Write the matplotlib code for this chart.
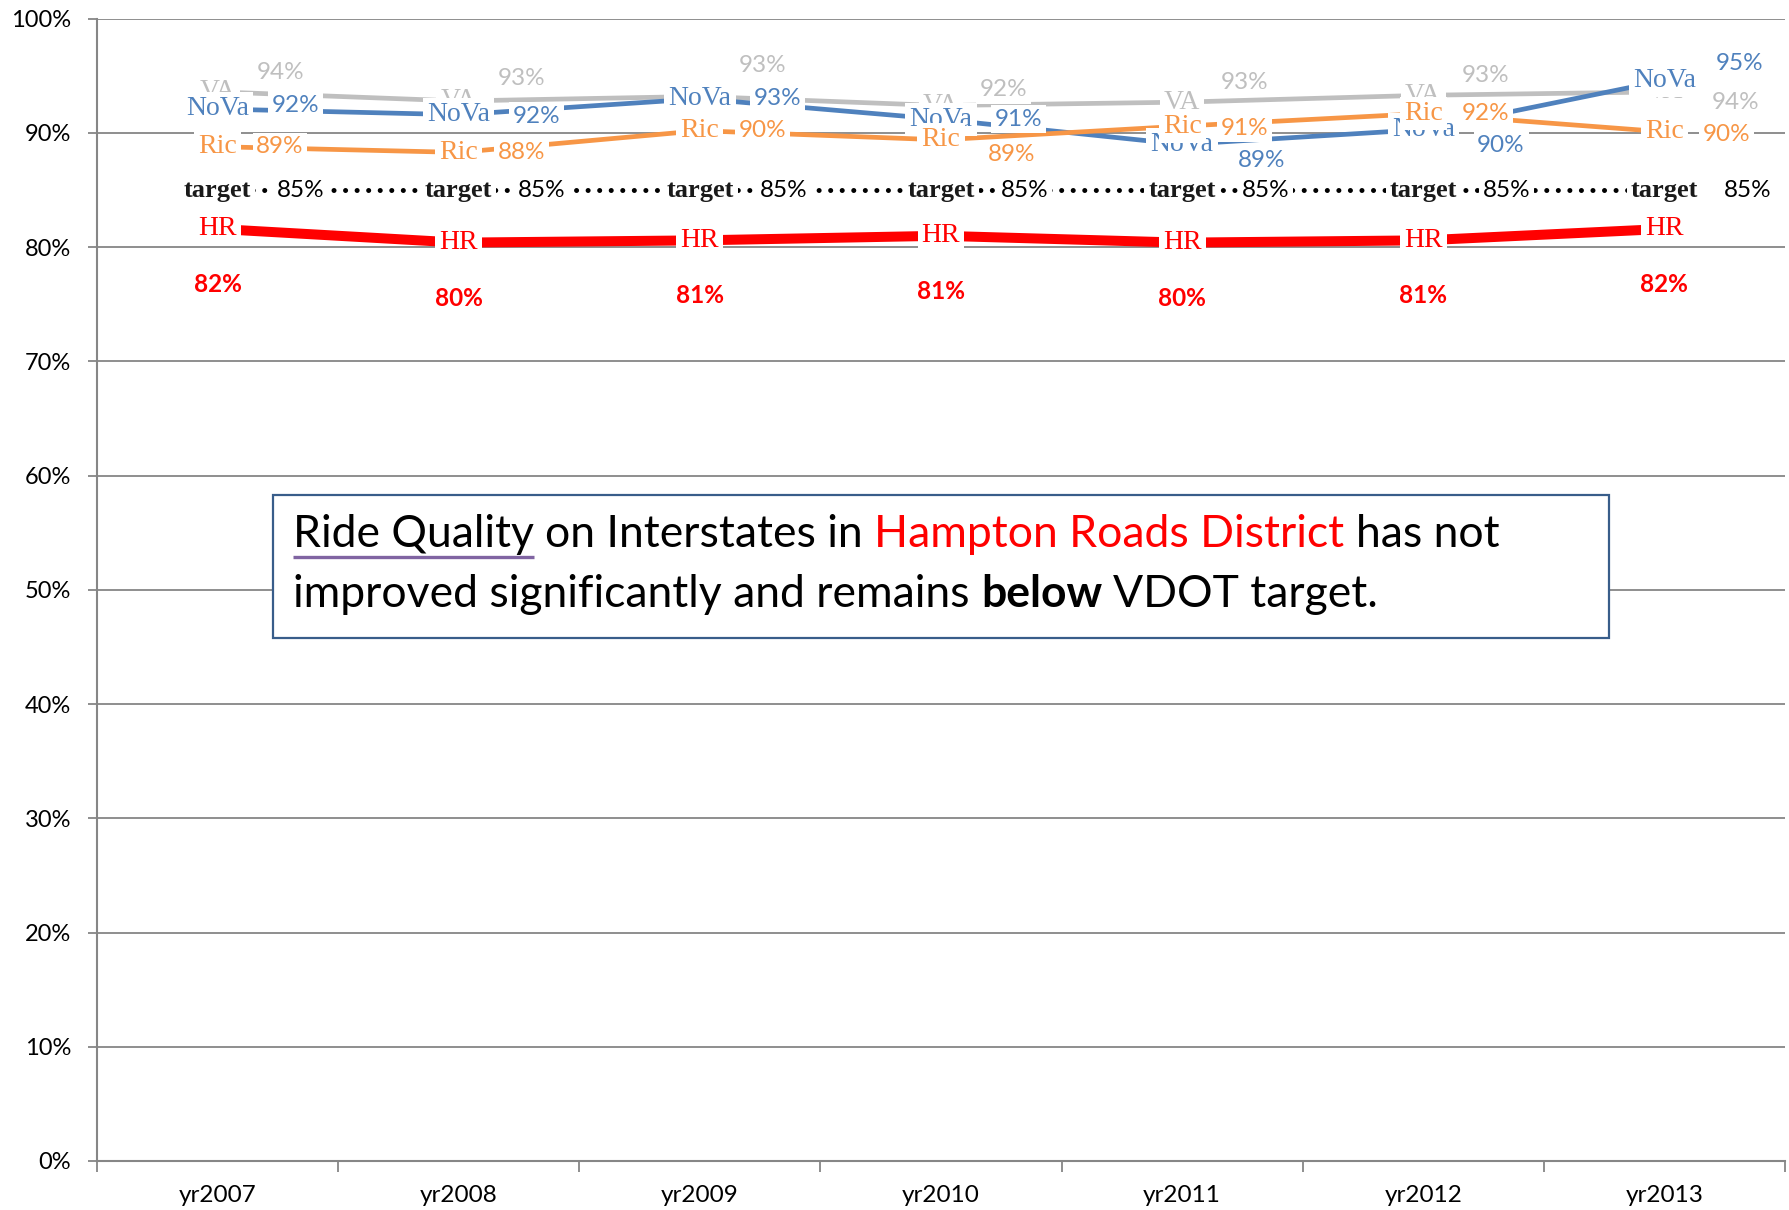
import matplotlib
matplotlib.use("Agg")
import matplotlib.pyplot as plt
from matplotlib.patches import Rectangle

# data
years = ["yr2007", "yr2008", "yr2009", "yr2010", "yr2011", "yr2012", "yr2013"]
va = [93.6, 92.8, 93.2, 92.4, 92.7, 93.3, 93.6]
nova = [92.1, 91.6, 93.0, 91.2, 89.0, 90.3, 94.6]
ric = [88.8, 88.3, 90.2, 89.4, 90.6, 91.7, 90.1]
target = [85, 85, 85, 85, 85, 85, 85]
hr = [81.6, 80.4, 80.6, 81.0, 80.4, 80.6, 81.6]

# label offsets (points) - Excel put these around the points
va_dx = [45, 45, 45, 45, 45, 45, 51]
va_dy = [14, 16, 22, 11.5, 14, 14, -7.5]
nova_dx = [56, 56, 56, 56, 57, 56, 54]
nova_dy = [2.5, -1, 0, 0, -11.5, -11.5, 12]
ric_dx = [45, 45, 45, 51, 45, 45, 45]
ric_dy = [0, 0, 0, -10.7, -1.6, 0, -1.6]

GRID = "#868686"
name_font = ["Liberation Serif"]
val_font = ["Lato"]
NAME_FS = 20
VAL_FS = 17.5

fig = plt.figure(figsize=(17.9, 12.1), dpi=100)
ax = fig.add_axes([0.0542, 0.0405, 0.943, 0.944])
x = list(range(len(years)))

ax.set_xlim(-0.5, 6.5)
ax.set_ylim(0, 100)
ax.set_yticks(range(0, 101, 10))
ax.set_yticklabels([f"{v}%" for v in range(0, 101, 10)], fontsize=17, family=val_font)
ax.set_xticks(x)
ax.set_xticklabels(years, fontsize=17.5, family=val_font)
ax.set_xticks([i - 0.5 for i in range(8)], minor=True)
ax.tick_params(axis="x", which="major", length=0, pad=17)
ax.tick_params(axis="x", which="minor", length=8, width=1.3, color=GRID, direction="out")
ax.tick_params(axis="y", length=6.5, width=1.3, color=GRID, pad=12)
ax.yaxis.grid(True, color=GRID, lw=1.3)
ax.set_axisbelow(True)
for s in ["top", "right"]:
    ax.spines[s].set_visible(False)
for s in ["left", "bottom"]:
    ax.spines[s].set_color(GRID)
    ax.spines[s].set_linewidth(1.5)

# lines
ax.plot(x, va, color="#BFBFBF", lw=3.4, zorder=2)
ax.plot(x, nova, color="#4F81BD", lw=3.4, zorder=2.1)
ax.plot(x, ric, color="#F79646", lw=3.4, zorder=2.2)
ax.plot(x, target, color="black", lw=3.6, linestyle=(0, (0.01, 2.3)),
        dash_capstyle="round", zorder=2.3)
ax.plot(x, hr, color="#FF0000", lw=7.2, solid_capstyle="butt", zorder=2.4)

box = dict(boxstyle="square,pad=0.15", fc="white", ec="none")


def put(txt, xi, yi, dx, dy, color, z, font, size, weight="normal", bbox=box):
    ax.annotate(txt, xy=(xi, yi), xytext=(dx, dy), textcoords="offset points",
                ha="center", va="center", color=color, fontsize=size,
                family=font, fontweight=weight, bbox=bbox, zorder=z)


for i in x:
    put("VA", i, va[i], 0, 0, "#BFBFBF", 5, name_font, NAME_FS)
    put(f"{va[i]:.0f}%", i, va[i], va_dx[i], va_dy[i], "#BFBFBF", 5, val_font, VAL_FS)
for i in x:
    put("NoVa", i, nova[i], 0, 0, "#4F81BD", 6, name_font, NAME_FS)
    put(f"{nova[i]:.0f}%", i, nova[i], nova_dx[i], nova_dy[i], "#4F81BD", 6, val_font, VAL_FS)
for i in x:
    put("Ric", i, ric[i], 0, 0, "#F79646", 7, name_font, NAME_FS)
    put(f"{ric[i]:.0f}%", i, ric[i], ric_dx[i], ric_dy[i], "#F79646", 7, val_font, VAL_FS)
for i in x:
    put("target", i, target[i], 0, 0, "#1a1a1a", 8, name_font, 19, weight="bold")
    put(f"{target[i]:.0f}%", i, target[i], 60, 0, "black", 8, val_font, VAL_FS)
for i in x:
    put("HR", i, hr[i], 0, 0, "#FF0000", 9, name_font, NAME_FS)
    put(f"{hr[i]:.0f}%", i, hr[i], 0, -40, "#FF0000", 9, val_font, VAL_FS,
        weight="bold", bbox=None)

# comment box
ax.add_patch(Rectangle((0.1043, 0.458), 0.7914, 0.1252, transform=ax.transAxes,
                       fc="white", ec="#385D8A", lw=1.6, zorder=10))

renderer = fig.canvas.get_renderer()
FS = 32


def width_of(s, weight="normal"):
    t = ax.text(0, 0, s, fontsize=FS, family=val_font, fontweight=weight,
                transform=ax.transAxes)
    w = t.get_window_extent(renderer).width / ax.bbox.width
    t.remove()
    return w


space = width_of("x x") - width_of("xx")


def draw_runs(runs, x0, y0):
    xx = x0
    for s, color, weight, under in runs:
        t = ax.text(xx, y0, s, transform=ax.transAxes, fontsize=FS, color=color,
                    fontweight=weight, family=val_font, va="baseline", ha="left",
                    zorder=11)
        w = t.get_window_extent(renderer).width / ax.bbox.width
        if under:
            uy = y0 - 10 / ax.bbox.height
            ax.plot([xx, xx + w], [uy, uy], transform=ax.transAxes,
                    color="#8064A2", lw=2.4, zorder=11, solid_capstyle="butt")
        xx += w + space


draw_runs([("Ride Quality", "black", "normal", True),
           ("on Interstates in", "black", "normal", False),
           ("Hampton Roads District", "#FF0000", "normal", False),
           ("has not", "black", "normal", False)], 0.1161, 0.5377)
draw_runs([("improved significantly and remains", "black", "normal", False),
           ("below", "black", "bold", False),
           ("VDOT target.", "black", "normal", False)], 0.1161, 0.4851)

fig.savefig("out.png", dpi=100)
